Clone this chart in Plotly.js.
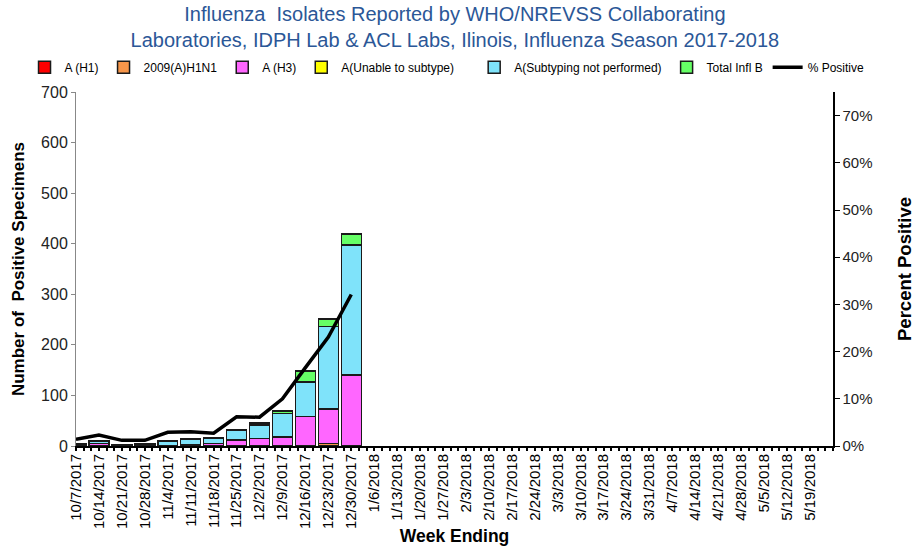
<!DOCTYPE html>
<html>
<head>
<meta charset="utf-8">
<script src="https://cdn.plot.ly/plotly-3.0.1.min.js"></script>
<style>html,body{margin:0;padding:0;background:#fff;}#chart{width:919px;height:548px;}</style>
</head>
<body>
<div id="chart"></div>
<script>
const weeks = ["10/7/2017","10/14/2017","10/21/2017","10/28/2017","11/4/2017","11/11/2017","11/18/2017","11/25/2017","12/2/2017","12/9/2017","12/16/2017","12/23/2017","12/30/2017","1/6/2018","1/13/2018","1/20/2018","1/27/2018","2/3/2018","2/10/2018","2/17/2018","2/24/2018","3/3/2018","3/10/2018","3/17/2018","3/24/2018","3/31/2018","4/7/2018","4/14/2018","4/21/2018","4/28/2018","5/5/2018","5/12/2018","5/19/2018"];
const reportedWeeks = weeks.slice(0, 13);
const aH1        = [0,0,0,0,0,0,0,0,0,0,0,0,0];
const aH1N1pdm   = [0,0,0,0,0,0,0,0,0,0,0,5,0];
const aH3        = [1,5,0,1,1,2,5,12,15,18,58,68,140];
const aUnable    = [0,0,0,0,0,0,0,0,0,0,0,0,0];
const aNotPerf   = [3,4,2,3,8,12,11,19,27,46,69,163,257];
const totalB     = [1,1,0,1,1,1,1,1,3,5,21,15,22];
const pctPositive= [1.4,2.3,1.2,1.2,2.9,3.0,2.7,6.2,6.1,10.0,16.6,23.1,32.1];
const pctTicks   = [0,10,20,30,40,50,60,70];
const pctLabels  = ["0%","10%","20%","30%","40%","50%","60%","70%"];

const FONT = "Liberation Sans, Arial, sans-serif";
const barLine = {color:'#1a1a1a', width:1.5};
function bar(name, vals, color, lg){
  return {type:'bar', name:name, x:reportedWeeks, y:vals, marker:{color:color, line:barLine}, width:0.87, legend:lg};
}
const traces = [
  bar('A (H1)', aH1, '#FF0000', 'legend'),
  bar('2009(A)H1N1', aH1N1pdm, '#F7964A', 'legend'),
  bar('A (H3)', aH3, '#FF66FF', 'legend'),
  bar('A(Unable to subtype)', aUnable, '#FFFF00', 'legend'),
  bar('A(Subtyping not performed)', aNotPerf, '#7FE3FA', 'legend2'),
  bar('Total Infl B', totalB, '#66FF66', 'legend2'),
  {type:'scatter', mode:'lines', name:'% Positive', x:reportedWeeks, y:pctPositive, yaxis:'y2',
   line:{color:'#000', width:3.5}, legend:'legend2'}
];
traces.push({type:'scatter', x:[0,33], y:[0,0], xaxis:'x2', mode:'none', showlegend:false, hoverinfo:'skip'});

const legendStyle = {orientation:'h', xanchor:'left', y:1.111, yanchor:'top',
          font:{family:FONT, size:12, color:'#000'}, itemwidth:30, traceorder:'normal',
          tracegroupgap:0, bgcolor:'rgba(0,0,0,0)'};

const layout = {
  width:919, height:548,
  margin:{l:76, r:86, t:92, b:102, autoexpand:false},
  paper_bgcolor:'#fff', plot_bgcolor:'#fff',
  barmode:'stack', bargap:0.13,
  font:{family:FONT, size:13, color:'#000'},
  title:{text:'Influenza  Isolates Reported by WHO/NREVSS Collaborating<br>Laboratories, IDPH Lab &amp; ACL Labs, Ilinois, Influenza Season 2017-2018',
         x:0.495, xanchor:'center', y:0.962, yanchor:'middle', yref:'container',
         font:{family:FONT, size:20, color:'#2B5797'}},
  showlegend:true,
  legend:Object.assign({}, legendStyle, {x:-0.068}),
  legend2:Object.assign({}, legendStyle, {x:0.526}),
  xaxis:{type:'category', categoryorder:'array', categoryarray:weeks,
         range:[0,33], tickangle:-90, tickfont:{family:FONT, size:15, color:'#000'},
         showline:true, linecolor:'#000', linewidth:2, ticks:'', showgrid:false,
         zeroline:false, fixedrange:true, automargin:false,
         title:{text:'Week Ending', font:{family:FONT, size:17.5, color:'#000', weight:'bold'}, standoff:2}},
  xaxis2:{overlaying:'x', anchor:'y', side:'bottom', type:'linear', range:[0,33],
          tick0:0, dtick:1/3, ticks:'outside', ticklen:4, tickwidth:2, tickcolor:'#000',
          showticklabels:false, showline:false, showgrid:false, zeroline:false},
  yaxis:{range:[0,700], dtick:100, showgrid:false, zeroline:false,
         showline:true, linecolor:'#888', linewidth:1, ticks:'outside', ticklen:4, tickcolor:'#888',
         tickfont:{family:FONT, size:16, color:'#222'}, automargin:false,
         title:{text:'Number of &nbsp;Positive Specimens', font:{family:FONT, size:17, color:'#000', weight:'bold'}, standoff:12}},
  yaxis2:{overlaying:'y', side:'right', range:[0,75], tickvals:pctTicks, ticktext:pctLabels,
          showgrid:false, zeroline:false, automargin:false,
          showline:true, linecolor:'#000', linewidth:1.5, ticks:'outside', ticklen:5, tickcolor:'#000',
          tickfont:{family:FONT, size:15, color:'#222'},
          title:{text:'Percent Positive', font:{family:FONT, size:18.5, color:'#000', weight:'bold'}, standoff:26}}
};

Plotly.newPlot('chart', traces, layout, {displayModeBar:false, staticPlot:true});
</script>
</body>
</html>
